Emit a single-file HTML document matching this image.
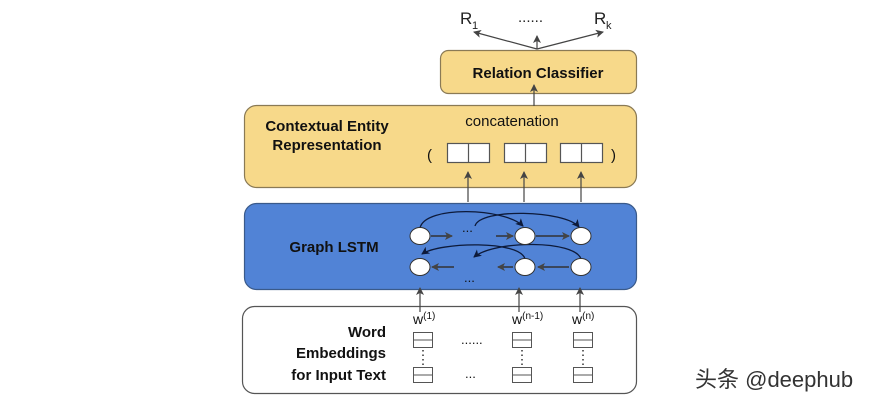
<!DOCTYPE html>
<html><head><meta charset="utf-8"><style>
body{margin:0;background:#fff;width:875px;height:403px;overflow:hidden}
svg text{font-family:"Liberation Sans",Arial,sans-serif}
</style></head><body>
<svg width="875" height="403" viewBox="0 0 875 403" xmlns="http://www.w3.org/2000/svg">
<defs>
<marker id="a" markerWidth="8" markerHeight="8" refX="7" refY="4" orient="auto" markerUnits="userSpaceOnUse"><path d="M0,0 L8,4 L0,8 L2,4z" fill="#444"/></marker>
<marker id="b" markerWidth="8" markerHeight="8" refX="7" refY="4" orient="auto" markerUnits="userSpaceOnUse"><path d="M0,0 L8,4 L0,8 L2,4z" fill="#0d1a3a"/></marker>
</defs>
<rect x="440.5" y="50.5" width="196" height="43" rx="8" fill="#f7d98a" stroke="#8a7a55" stroke-width="1.2"/>
<rect x="244.5" y="105.5" width="392" height="82" rx="12" fill="#f7d98a" stroke="#8a7a55" stroke-width="1.2"/>
<rect x="244.5" y="203.5" width="392" height="86" rx="12" fill="#5183d6" stroke="#3a5a8a" stroke-width="1.2"/>
<rect x="242.5" y="306.5" width="394" height="87" rx="12" fill="#fff" stroke="#555" stroke-width="1.2"/>
<text x="460" y="24" font-size="17" fill="#222">R</text><text x="472" y="29" font-size="11" fill="#222">1</text>
<text x="594" y="24" font-size="17" fill="#222">R</text><text x="606" y="29" font-size="11" fill="#222">k</text>
<text x="518" y="22" font-size="15" fill="#222">......</text>
<line x1="537" y1="49" x2="474" y2="32" stroke="#444" stroke-width="1.2" marker-end="url(#a)"/>
<line x1="537" y1="49" x2="537" y2="36" stroke="#444" stroke-width="1.2" marker-end="url(#a)"/>
<line x1="537" y1="49" x2="603" y2="32" stroke="#444" stroke-width="1.2" marker-end="url(#a)"/>
<text x="538" y="78" font-size="15" font-weight="bold" fill="#111" text-anchor="middle">Relation Classifier</text>
<line x1="534" y1="106" x2="534" y2="85" stroke="#444" stroke-width="1.2" marker-end="url(#a)"/>
<text x="327" y="131" font-size="15" font-weight="bold" fill="#111" text-anchor="middle">Contextual Entity</text>
<text x="327" y="150" font-size="15" font-weight="bold" fill="#111" text-anchor="middle">Representation</text>
<text x="512" y="126" font-size="15" fill="#111" text-anchor="middle">concatenation</text>
<text x="427" y="160" font-size="15" fill="#111">(</text>
<text x="611" y="160" font-size="15" fill="#111">)</text>
<g fill="#fff" stroke="#555" stroke-width="1.2">
<rect x="447.5" y="143.5" width="42" height="19"/><line x1="468.5" y1="143.5" x2="468.5" y2="162.5"/>
<rect x="504.5" y="143.5" width="42" height="19"/><line x1="525.5" y1="143.5" x2="525.5" y2="162.5"/>
<rect x="560.5" y="143.5" width="42" height="19"/><line x1="581.5" y1="143.5" x2="581.5" y2="162.5"/>
</g>
<g stroke="#444" stroke-width="1.2" marker-end="url(#a)">
<line x1="468" y1="202" x2="468" y2="172"/><line x1="524" y1="202" x2="524" y2="172"/><line x1="581" y1="202" x2="581" y2="172"/>
</g>
<text x="334" y="252" font-size="15" font-weight="bold" fill="#111" text-anchor="middle">Graph LSTM</text>
<g fill="none" stroke="#0d1a3a" stroke-width="1.3" marker-end="url(#b)">
<path d="M420,228 C425,205 505,208 523,226"/>
<path d="M475,226 C480,208 565,210 579,227"/>
<path d="M525,259 C520,240 440,242 422,254"/>
<path d="M581,259 C575,240 495,240 474,257"/>
</g>
<g stroke="#333" stroke-width="1.5" marker-end="url(#a)">
<line x1="431" y1="236" x2="452" y2="236"/><line x1="496" y1="236" x2="513" y2="236"/><line x1="536" y1="236" x2="569" y2="236"/>
<line x1="454" y1="267" x2="432" y2="267"/><line x1="513" y1="267" x2="498" y2="267"/><line x1="569" y1="267" x2="538" y2="267"/>
</g>
<text x="462" y="232" font-size="13" fill="#111">...</text>
<text x="464" y="282" font-size="13" fill="#111">...</text>
<g fill="#fff" stroke="#333" stroke-width="1">
<ellipse cx="420" cy="236" rx="10" ry="8.5"/><ellipse cx="525" cy="236" rx="10" ry="8.5"/><ellipse cx="581" cy="236" rx="10" ry="8.5"/>
<ellipse cx="420" cy="267" rx="10" ry="8.5"/><ellipse cx="525" cy="267" rx="10" ry="8.5"/><ellipse cx="581" cy="267" rx="10" ry="8.5"/>
</g>
<g stroke="#444" stroke-width="1.2" marker-end="url(#a)">
<line x1="420" y1="312" x2="420" y2="288"/><line x1="519" y1="312" x2="519" y2="288"/><line x1="580" y1="312" x2="580" y2="288"/>
</g>
<text x="386" y="337" font-size="15" font-weight="bold" fill="#111" text-anchor="end">Word</text>
<text x="386" y="358" font-size="15" font-weight="bold" fill="#111" text-anchor="end">Embeddings</text>
<text x="386" y="380" font-size="15" font-weight="bold" fill="#111" text-anchor="end">for Input Text</text>
<text x="413" y="324" font-size="14" fill="#111">w<tspan font-size="10" dy="-5">(1)</tspan></text>
<text x="512" y="324" font-size="14" fill="#111">w<tspan font-size="10" dy="-5">(n-1)</tspan></text>
<text x="572" y="324" font-size="14" fill="#111">w<tspan font-size="10" dy="-5">(n)</tspan></text>
<g fill="#fff" stroke="#555" stroke-width="1">
<rect x="413.5" y="332.5" width="19" height="15"/><line x1="413.5" y1="340" x2="432.5" y2="340"/>
<rect x="413.5" y="367.5" width="19" height="15"/><line x1="413.5" y1="375" x2="432.5" y2="375"/>
<rect x="512.5" y="332.5" width="19" height="15"/><line x1="512.5" y1="340" x2="531.5" y2="340"/>
<rect x="512.5" y="367.5" width="19" height="15"/><line x1="512.5" y1="375" x2="531.5" y2="375"/>
<rect x="573.5" y="332.5" width="19" height="15"/><line x1="573.5" y1="340" x2="592.5" y2="340"/>
<rect x="573.5" y="367.5" width="19" height="15"/><line x1="573.5" y1="375" x2="592.5" y2="375"/>
</g>
<g stroke="#333" stroke-width="1.5" stroke-dasharray="1.5,3">
<line x1="423" y1="350" x2="423" y2="366"/><line x1="522" y1="350" x2="522" y2="366"/><line x1="583" y1="350" x2="583" y2="366"/>
</g>
<text x="461" y="344" font-size="13" fill="#111">......</text>
<text x="465" y="378" font-size="13" fill="#111">...</text>
<text x="695" y="387" font-size="22" fill="#333" font-family="'Liberation Sans','Noto Sans CJK SC',sans-serif">头条 @deephub</text>
</svg>
</body></html>
